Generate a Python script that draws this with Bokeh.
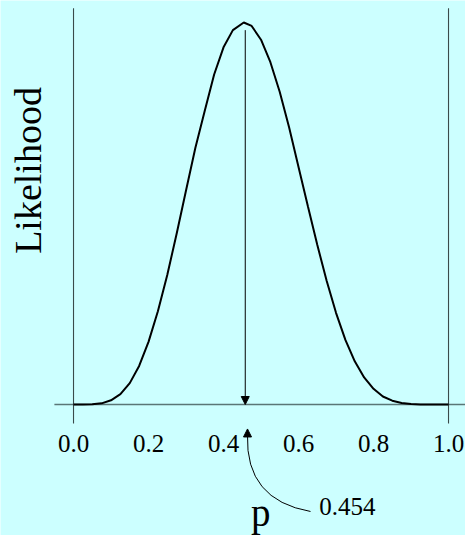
from bokeh.plotting import figure
from bokeh.models import Range1d, Arrow, NormalHead
from bokeh.core.properties import value
from bokeh.embed import file_html
from bokeh.resources import INLINE
import math

# Data: relative likelihood vs p
p_vals = [0.0, 0.025, 0.05, 0.075, 0.1, 0.125, 0.15, 0.175, 0.2, 0.225, 0.25, 0.275,
          0.3, 0.325, 0.35, 0.375, 0.4, 0.425, 0.454, 0.475, 0.5, 0.525, 0.55, 0.575,
          0.6, 0.625, 0.65, 0.675, 0.7, 0.725, 0.75, 0.775, 0.8, 0.825, 0.85, 0.875,
          0.9, 0.925, 0.95, 0.975, 1.0]
likelihood = [0.0, 0.0, 0.0004, 0.003, 0.011, 0.027, 0.056, 0.101, 0.164, 0.244, 0.339, 0.447,
              0.560, 0.672, 0.769, 0.864, 0.935, 0.980, 1.0, 0.991, 0.955, 0.896, 0.818, 0.725,
              0.622, 0.519, 0.418, 0.324, 0.240, 0.169, 0.113, 0.071, 0.041, 0.021, 0.010, 0.004,
              0.0012, 0.0002, 0.0, 0.0, 0.0]
tick_vals = [0.0, 0.2, 0.4, 0.6, 0.8, 1.0]
tick_labels = ["0.0", "0.2", "0.4", "0.6", "0.8", "1.0"]
p_hat = 0.454
p_hat_label = "0.454"
x_label = "p"
y_label = "Likelihood"

BG = "#ccffff"
SERIF = value("Liberation Serif")

p = figure(width=465, height=535, output_backend="svg", toolbar_location=None,
           x_range=Range1d(-0.1947, 1.0453), y_range=Range1d(-0.3429, 1.0576),
           x_axis_type=None, y_axis_type=None, min_border=0,
           background_fill_color=BG, border_fill_color=BG, outline_line_color=None)
p.grid.visible = False

# baseline
p.segment(x0=[-0.051], y0=[0.0], x1=[1.06], y1=[0.0], line_color="#5a7676", line_width=1.6)
# vertical bounds at p=0 and p=1
p.segment(x0=[0.0, 1.0], y0=[-0.05, -0.05], x1=[0.0, 1.0], y1=[1.037, 1.037],
          line_color="#3a4a4a", line_width=1.1)

# curve
p.line(p_vals, likelihood, line_color="black", line_width=2)

# arrow from peak down to the axis
p.add_layout(Arrow(end=NormalHead(size=8, fill_color="black", line_color="black"),
                   x_start=p_hat + 0.004, y_start=0.98, x_end=p_hat + 0.004, y_end=0.0,
                   line_color="black", line_width=1))

# tick labels
p.text(x=tick_vals, y=[-0.102] * len(tick_vals), text=tick_labels, text_font=SERIF,
       text_font_size="25px", text_align="center", text_baseline="alphabetic", text_color="black")

# curved pointer to the estimate
tip_x = p_hat + 0.01
p.quadratic(x0=[0.632], y0=[-0.280], x1=[tip_x], y1=[-0.08], cx=[tip_x - 0.006], cy=[-0.25],
            line_color="black", line_width=1)
p.add_layout(Arrow(end=NormalHead(size=8, fill_color="black", line_color="black"),
                   x_start=tip_x, y_start=-0.085, x_end=tip_x, y_end=-0.064,
                   line_color="black", line_width=1))
p.text(x=[0.655], y=[-0.268], text=[p_hat_label], text_font=SERIF, text_font_size="25px",
       text_align="left", text_baseline="middle", text_color="black")

# axis titles
p.text(x=[0.499], y=[-0.284], text=[x_label], text_font=SERIF, text_font_size="39px",
       text_align="center", text_baseline="alphabetic", text_color="black")
p.text(x=[-0.1227], y=[0.6126], text=[y_label], text_font=SERIF, text_font_size="38px",
       text_align="center", text_baseline="alphabetic", angle=math.pi / 2, text_color="black")

html = file_html(p, INLINE)
html = html.replace("<body>", '<body style="background:%s">' % BG, 1)
open("out.html", "w").write(html)
